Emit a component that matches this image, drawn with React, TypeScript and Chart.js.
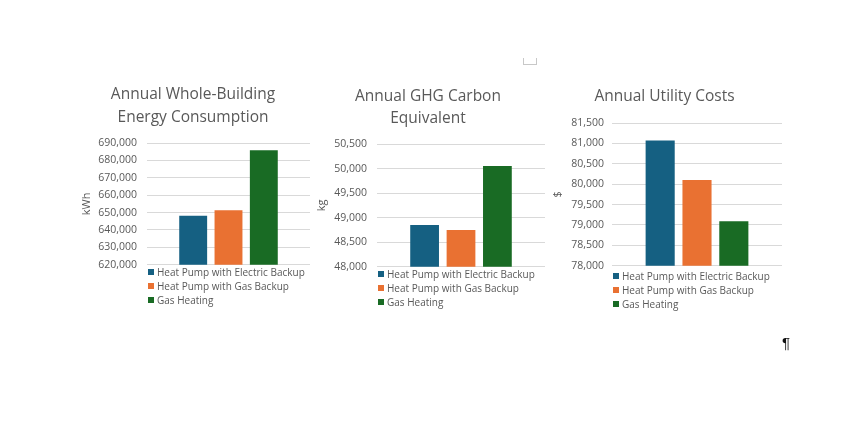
import { useEffect, useRef } from "react";
import { Chart, registerables } from "chart.js";

Chart.register(...registerables);

// series shared by all three charts
const seriesNames = [
  "Heat Pump with Electric Backup",
  "Heat Pump with Gas Backup",
  "Gas Heating",
];
const seriesColors = ["#156082", "#E97132", "#196B24"];

// values
const energyKWh = [648200, 651300, 685800];
const ghgKg = [48850, 48750, 50050];
const costUSD = [81070, 80100, 79090];

// y axis ranges: [min, max, step]
const energyAxis = [620000, 690000, 10000];
const ghgAxis = [48000, 50500, 500];
const costAxis = [78000, 81500, 500];

const FONT = "'Open Sans', sans-serif";
const GREY = "#595959";

type PanelProps = {
  left: number;
  top: number;
  width: number;
  height: number;
  title: string[];
  titlePad: { top: number; bottom: number };
  titleLine: number;
  yWidth: number;
  tickPad: number;
  padRight: number;
  unit: string;
  values: number[];
  axis: number[];
  legendTop: number;
};

function ChartPanel(p: PanelProps) {
  const canvasRef = useRef<HTMLCanvasElement>(null);

  useEffect(() => {
    if (!canvasRef.current) return;
    const chart = new Chart(canvasRef.current, {
      type: "bar",
      data: {
        labels: [""],
        datasets: seriesNames.map((name, i) => ({
          label: name,
          data: [p.values[i]],
          backgroundColor: seriesColors[i],
          borderWidth: 0,
          categoryPercentage: 0.65,
          barPercentage: 0.79,
        })),
      },
      options: {
        animation: false,
        responsive: true,
        maintainAspectRatio: false,
        layout: { padding: { left: 0, right: p.padRight, top: 0, bottom: 8 } },
        plugins: {
          legend: { display: false },
          tooltip: { enabled: false },
          title: {
            display: true,
            text: p.title,
            color: GREY,
            font: {
              family: FONT,
              size: 15.5,
              weight: "normal",
              lineHeight: p.titleLine + "px",
            },
            padding: p.titlePad,
          },
        },
        scales: {
          x: { display: false },
          y: {
            min: p.axis[0],
            max: p.axis[1],
            afterFit: (scale: any) => {
              scale.width = p.yWidth;
            },
            ticks: {
              stepSize: p.axis[2],
              padding: p.tickPad,
              color: GREY,
              font: { family: FONT, size: 10.5 },
              callback: (v: any) => Number(v).toLocaleString("en-US"),
            },
            grid: { color: "#d9d9d9", drawTicks: false },
            border: { display: false },
            title: {
              display: true,
              text: p.unit,
              color: GREY,
              font: { family: FONT, size: 11 },
            },
          },
        },
      },
    });
    return () => chart.destroy();
  }, []);

  return (
    <>
      <div
        style={{
          position: "absolute",
          left: p.left,
          top: p.top,
          width: p.width,
          height: p.height,
        }}
      >
        <canvas ref={canvasRef}></canvas>
      </div>
      {/* Legend */}
      <div
        style={{
          position: "absolute",
          left: p.left + p.yWidth + 1,
          top: p.legendTop,
          fontFamily: FONT,
          fontSize: 10,
          lineHeight: "14px",
          color: GREY,
          whiteSpace: "nowrap",
        }}
      >
        {seriesNames.map((name, i) => (
          <div key={name} style={{ display: "flex", alignItems: "center" }}>
            <span
              style={{
                width: 6,
                height: 6,
                background: seriesColors[i],
                marginRight: 3,
              }}
            ></span>
            {name}
          </div>
        ))}
      </div>
    </>
  );
}

export default function App() {
  return (
    <div
      style={{
        position: "absolute",
        left: 0,
        top: 0,
        width: 850,
        height: 425,
        background: "#fff",
        overflow: "hidden",
      }}
    >
      <ChartPanel
        left={76}
        top={80}
        width={234}
        height={201}
        title={["Annual Whole-Building", "Energy Consumption"]}
        titlePad={{ top: 3.5, bottom: 13.5 }}
        titleLine={23}
        yWidth={71}
        tickPad={10}
        padRight={0}
        unit="kWh"
        values={energyKWh}
        axis={energyAxis}
        legendTop={265}
      />
      <ChartPanel
        left={311}
        top={82}
        width={234}
        height={201}
        title={["Annual GHG Carbon", "Equivalent"]}
        titlePad={{ top: 4, bottom: 14 }}
        titleLine={22}
        yWidth={66}
        tickPad={10}
        padRight={0}
        unit="kg"
        values={ghgKg}
        axis={ghgAxis}
        legendTop={267}
      />
      <ChartPanel
        left={547}
        top={82}
        width={238}
        height={198}
        title={["Annual Utility Costs"]}
        titlePad={{ top: 4, bottom: 15 }}
        titleLine={22}
        yWidth={65}
        tickPad={8}
        padRight={3}
        unit="$"
        values={costUSD}
        axis={costAxis}
        legendTop={269}
      />
      <div
        style={{
          position: "absolute",
          left: 523,
          top: 58,
          width: 12,
          height: 6,
          borderLeft: "1px solid #c8c8c8",
          borderRight: "1px solid #c8c8c8",
          borderBottom: "1px solid #c8c8c8",
        }}
      ></div>
      <div
        style={{
          position: "absolute",
          left: 782,
          top: 334,
          fontFamily: "'Liberation Sans', sans-serif",
          fontSize: 15,
          color: "#111",
        }}
      >
        ¶
      </div>
    </div>
  );
}
